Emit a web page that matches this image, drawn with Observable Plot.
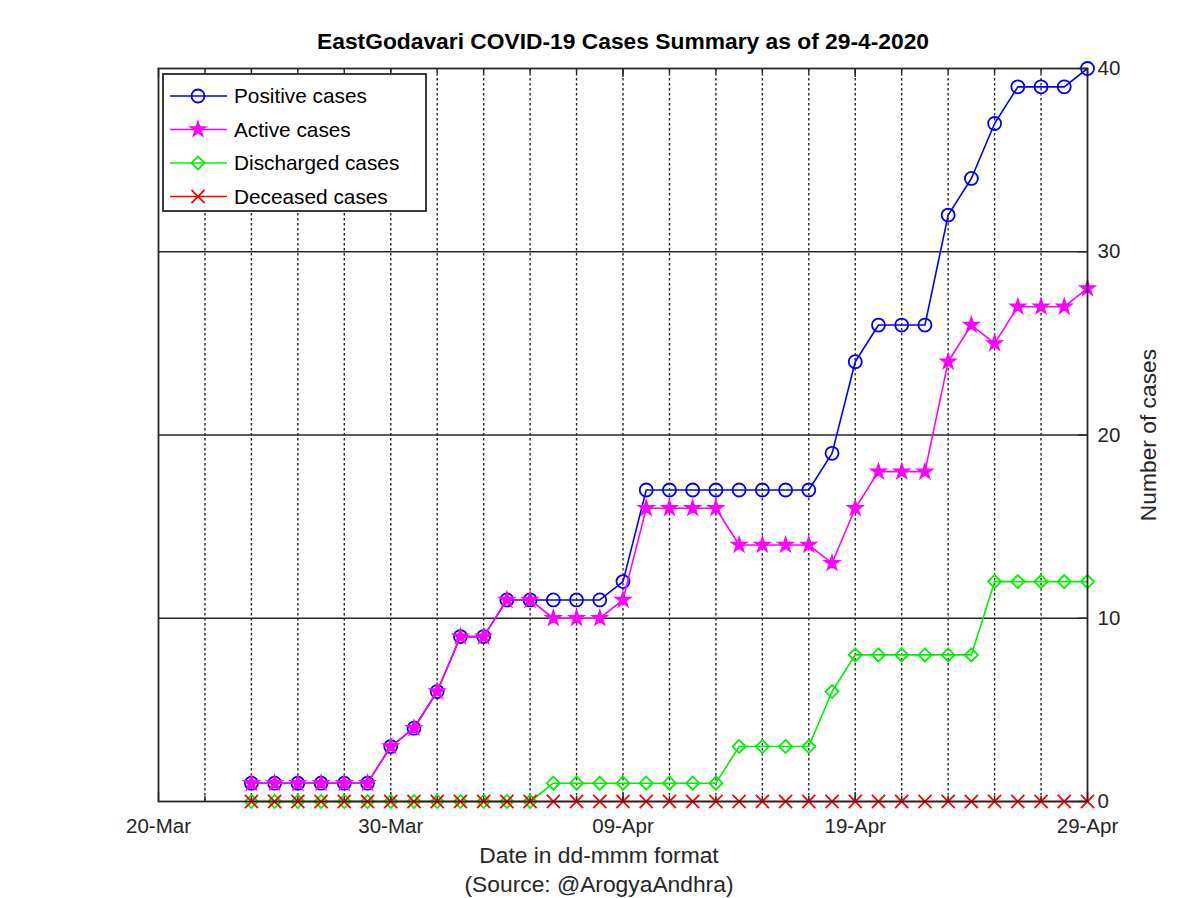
<!DOCTYPE html>
<html><head><meta charset="utf-8">
<script src="https://cdn.jsdelivr.net/npm/d3@7"></script>
<script src="https://cdn.jsdelivr.net/npm/@observablehq/plot@0.6"></script>
<style>
body{margin:0;background:#fff}
#chart{width:1200px;height:898px}
</style>
</head><body><div id="chart"></div>
<script>
// ---- data ----
const title = "EastGodavari COVID-19 Cases Summary as of 29-4-2020";
const xLabel = "Date in dd-mmm format";
const sourceNote = "(Source: @ArogyaAndhra)";
const yLabel = "Number of cases";

const dates = d3.utcDay.range(new Date("2020-03-24"), new Date("2020-04-30")); // 24-Mar .. 29-Apr
const positive   = [1,1,1,1,1,1,3,4,6,9,9,11,11,11,11,11,12,17,17,17,17,17,17,17,17,19,24,26,26,26,32,34,37,39,39,39,40];
const active     = [1,1,1,1,1,1,3,4,6,9,9,11,11,10,10,10,11,16,16,16,16,14,14,14,14,13,16,18,18,18,24,26,25,27,27,27,28];
const discharged = [0,0,0,0,0,0,0,0,0,0,0,0,0,1,1,1,1,1,1,1,1,3,3,3,3,6,8,8,8,8,8,8,12,12,12,12,12];
const deceased   = [0,0,0,0,0,0,0,0,0,0,0,0,0,0,0,0,0,0,0,0,0,0,0,0,0,0,0,0,0,0,0,0,0,0,0,0,0];

const seriesNames  = ["Positive cases","Active cases","Discharged cases","Deceased cases"];
const seriesValues = [positive, active, discharged, deceased];
const seriesColors = ["#0000ff","#ff00ff","#00f000","#ff0000"];

const xDomain = [new Date("2020-03-20"), new Date("2020-04-29")];
const xTickLabels = ["2020-03-20","2020-03-30","2020-04-09","2020-04-19","2020-04-29"];
const xTicks = xTickLabels.map(d => new Date(d));
const gridDates = d3.utcDay.range(new Date("2020-03-22"), new Date("2020-04-29"), 2);
const yTicks = [0,10,20,30,40];
const yGrid = [10,20,30];

// ---- layout / style ----
const W = 1200, H = 898;
const mL = 158, mR = 113, mT = 68, mB = 97;
const pW = W - mL - mR, pH = H - mT - mB;
const ink = "#262626";
const font = "'Liberation Sans', Arial, Helvetica, sans-serif";
const symbols = ["circle","star","diamond2","times"];
const symR = [6.5, 4.4, 5.9, 6.0];
const symFill = [c => "none", c => c, c => "none", c => "none"];

const rows = seriesNames.map((name, i) => dates.map((d, j) => ({series: name, date: d, value: seriesValues[i][j]})));

const seriesMarks = rows.flatMap((data, i) => [
  Plot.line(data, {x: "date", y: "value", stroke: seriesColors[i], strokeWidth: 1.6}),
  Plot.dot(data, {x: "date", y: "value", symbol: () => symbols[i], r: symR[i],
    stroke: seriesColors[i], fill: symFill[i](seriesColors[i]), strokeWidth: 1.8})
]);

const chart = Plot.plot({
  width: W, height: H,
  marginLeft: mL, marginRight: mR, marginTop: mT, marginBottom: mB,
  style: {fontFamily: font, fontSize: "20.5px", background: "#fff", color: ink},
  x: {type: "utc", domain: xDomain},
  y: {domain: [0, 40]},
  marks: [
    Plot.ruleX(gridDates, {x: d => d, stroke: ink, strokeWidth: 1.4, strokeDasharray: "2.5,2.5"}),
    Plot.ruleX(gridDates, {x: d => d, stroke: ink, strokeWidth: 1.4, insetTop: pH - 5}),
    Plot.ruleX(gridDates, {x: d => d, stroke: ink, strokeWidth: 1.4, insetBottom: pH - 5}),
    Plot.ruleX(xTicks, {x: d => d, stroke: ink, strokeWidth: 1.4, insetTop: pH - 9}),
    Plot.ruleX(xTicks, {x: d => d, stroke: ink, strokeWidth: 1.4, insetBottom: pH - 9}),
    Plot.ruleY(yGrid, {y: d => d, stroke: ink, strokeWidth: 1.4}),
    Plot.ruleY(yTicks, {y: d => d, stroke: ink, strokeWidth: 1.4, insetLeft: pW - 9}),
    ...seriesMarks,
    Plot.frame({stroke: ink, strokeWidth: 1.8}),
    Plot.axisX({anchor: "bottom", ticks: xTicks, tickFormat: d3.utcFormat("%d-%b"), tickSize: 0, tickPadding: 17, label: null, fill: ink}),
    Plot.axisY({anchor: "right", ticks: yTicks, tickSize: 0, tickPadding: 10, label: null, fill: ink}),
    Plot.text([title], {text: d => d, frameAnchor: "top", dy: -36, fontSize: 22.8, fontWeight: "bold", fill: "#000"}),
    Plot.text([xLabel], {text: d => d, frameAnchor: "bottom", dx: -24, dy: 61, fontSize: 22.8, fill: ink}),
    Plot.text([sourceNote], {text: d => d, frameAnchor: "bottom", dx: -24, dy: 90, fontSize: 22.8, fill: ink}),
    Plot.text([yLabel], {text: d => d, frameAnchor: "right", textAnchor: "middle", dx: 61, rotate: -90, fontSize: 22.8, fill: ink})
  ]
});
document.getElementById("chart").appendChild(chart);

// ---- legend (drawn in the same SVG) ----
const svg = d3.select(chart);
const lg = svg.append("g").attr("font-family", font).attr("font-size", 20.8).attr("text-anchor", "start");
lg.append("rect").attr("x", 163).attr("y", 74).attr("width", 263).attr("height", 137)
  .attr("fill", "#fff").attr("stroke", ink).attr("stroke-width", 1.8);
const d3Sym = [d3.symbolCircle, d3.symbolStar, d3.symbolDiamond2, d3.symbolTimes];
seriesNames.forEach((name, i) => {
  const cy = 96 + i * 33.5;
  lg.append("line").attr("x1", 170).attr("x2", 227).attr("y1", cy).attr("y2", cy)
    .attr("stroke", seriesColors[i]).attr("stroke-width", 1.6);
  lg.append("path").attr("d", d3.symbol(d3Sym[i], Math.PI * symR[i] * symR[i])())
    .attr("transform", `translate(198,${cy})`)
    .attr("fill", symFill[i](seriesColors[i])).attr("stroke", seriesColors[i]).attr("stroke-width", 1.8);
  lg.append("text").attr("x", 234).attr("y", cy).attr("dy", "0.35em").attr("text-anchor", "start").attr("fill", "#000").text(name);
});
</script>
</body></html>
